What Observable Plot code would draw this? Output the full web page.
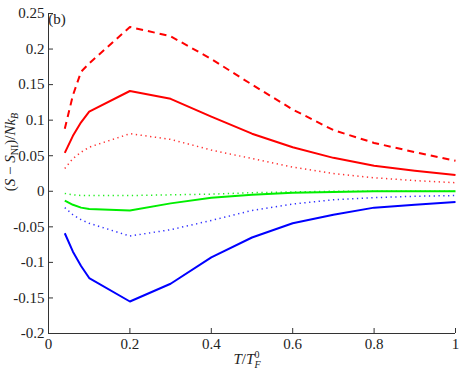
<!DOCTYPE html>
<html><head><meta charset="utf-8">
<script src="https://cdn.jsdelivr.net/npm/d3@7"></script>
<script src="https://cdn.jsdelivr.net/npm/@observablehq/plot@0.6"></script>
<style>
body{margin:0;background:#fff;}
</style>
</head><body><div id="chart"></div>
<script>
const temps = [0.04,0.06,0.08,0.1,0.2,0.3,0.4,0.5,0.6,0.7,0.8,0.9,1.0];
const redDashed  = [0.088,0.135,0.168,0.180,0.231,0.218,0.186,0.150,0.115,0.086,0.068,0.055,0.043];
const redSolid   = [0.054,0.078,0.097,0.112,0.141,0.130,0.105,0.081,0.062,0.047,0.036,0.029,0.023];
const redDotted  = [0.032,0.046,0.055,0.062,0.081,0.073,0.058,0.046,0.034,0.025,0.019,0.015,0.012];
const greenDotted= [-0.003,-0.005,-0.006,-0.006,-0.006,-0.005,-0.004,-0.002,-0.001,0,0,0,0];
const greenSolid = [-0.013,-0.019,-0.023,-0.025,-0.027,-0.017,-0.009,-0.005,-0.002,-0.001,0,0,0];
const blueDotted = [-0.023,-0.033,-0.040,-0.045,-0.063,-0.054,-0.041,-0.027,-0.018,-0.012,-0.009,-0.007,-0.006];
const blueSolid  = [-0.059,-0.085,-0.105,-0.122,-0.155,-0.130,-0.093,-0.065,-0.045,-0.033,-0.023,-0.019,-0.015];
const xTicks = [0,0.2,0.4,0.6,0.8,1];
const yTicks = [-0.2,-0.15,-0.1,-0.05,0,0.05,0.1,0.15,0.2,0.25];

const series = [
  {vals: redDashed, color:"#ff0000", dash:"7,5", w:2},
  {vals: redSolid, color:"#ff0000", dash:null, w:2},
  {vals: redDotted, color:"#ff3030", dash:"1.3,3.5", w:1.5},
  {vals: greenDotted, color:"#22ee22", dash:"1.3,3.5", w:1.5},
  {vals: greenSolid, color:"#00ee00", dash:null, w:2},
  {vals: blueDotted, color:"#3030ff", dash:"1.3,3.5", w:1.5},
  {vals: blueSolid, color:"#0000ff", dash:null, w:2}
];

const W = 471, H = 370, mL = 48, mR = 16, mT = 13, mB = 37;
const fmt = d => String(+d.toFixed(2));
const FONT = '"Liberation Serif"';

const marks = [];
for (const s of series) {
  const data = temps.map((t,i)=>({t, v:s.vals[i]}));
  marks.push(Plot.line(data, {x:"t", y:"v", stroke:s.color, strokeWidth:s.w, strokeDasharray:s.dash, strokeLinecap:"butt"}));
}
marks.push(Plot.tickX(xTicks, {x:d=>d, stroke:"#333", strokeWidth:1, insetTop: H-mT-mB-5}));
marks.push(Plot.tickY(yTicks, {y:d=>d, stroke:"#333", strokeWidth:1, insetRight: W-mL-mR-5}));
marks.push(Plot.ruleX([0], {stroke:"#333", strokeWidth:1}));
marks.push(Plot.ruleY([-0.2], {stroke:"#333", strokeWidth:1}));
marks.push(Plot.axisX(xTicks, {tickSize:0, tickPadding:5, tickFormat:fmt, fontSize:15, fill:"#222", label:null}));
marks.push(Plot.axisY(yTicks, {tickSize:0, tickPadding:4, tickFormat:fmt, fontSize:15, fill:"#222", label:null}));

const plot = Plot.plot({
  width: W, height: H,
  marginLeft: mL, marginRight: mR, marginTop: mT, marginBottom: mB,
  x: {domain:[0,1]},
  y: {domain:[-0.2,0.25]},
  marks
});
document.getElementById("chart").appendChild(plot);

const svg = d3.select(plot);
svg.append("text").attr("x",57).attr("y",24).attr("font-size",15).attr("fill","#222").text("(b)");
const xl = svg.append("text").attr("x",247).attr("y",364).attr("text-anchor","middle").attr("font-size",15).attr("fill","#222");
xl.append("tspan").attr("font-style","italic").text("T");
xl.append("tspan").text("/");
xl.append("tspan").attr("font-style","italic").text("T");
xl.append("tspan").attr("font-size",10).attr("dy",-6).text("0");
xl.append("tspan").attr("font-size",10).attr("font-style","italic").attr("dy",10).attr("dx",-5).text("F");
const yl = svg.append("text").attr("transform","translate(15,152) rotate(-90)").attr("text-anchor","middle").attr("font-size",15).attr("fill","#222");
yl.append("tspan").text("(");
yl.append("tspan").attr("font-style","italic").text("S");
yl.append("tspan").text(" − ");
yl.append("tspan").attr("font-style","italic").text("S");
yl.append("tspan").attr("font-size",10).attr("dy",3).text("NI");
yl.append("tspan").attr("dy",-3).text(")/");
yl.append("tspan").attr("font-style","italic").text("Nk");
yl.append("tspan").attr("font-size",10).attr("font-style","italic").attr("dy",3).text("B");
svg.style("font-family", FONT);
svg.selectAll("text, g").style("font-family", FONT);
</script>
</body></html>
